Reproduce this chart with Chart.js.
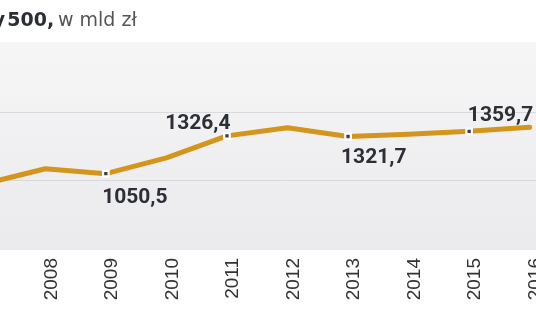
<!DOCTYPE html>
<html><head><meta charset="utf-8">
<script src="https://cdn.jsdelivr.net/npm/chart.js@4.4.1/dist/chart.umd.min.js"></script>
<style>
html,body{margin:0;padding:0;width:536px;height:332px;overflow:hidden;background:#fff}
body{position:relative}
#wrap{position:absolute;left:-82px;top:0;width:739px;height:332px}
</style></head><body>
<div id="wrap"><canvas id="c" width="739" height="332"></canvas></div>
<script>
// ---- data ----
const years = [2007, 2008, 2009, 2010, 2011, 2012, 2013, 2014, 2015, 2016];
const values = [977, 1086, 1050.5, 1166, 1326.4, 1386, 1321.7, 1339, 1359.7, 1390];
const valueLabels = [null, null, '1050,5', null, '1326,4', null, '1321,7', null, '1359,7', null];
const markerYears = [2007, 2009, 2011, 2013, 2015];
const tickLabels = ['2008', '2009', '2010', '2011', '2012', '2013', '2014', '2015', '2016'];
const gridValues = [1000, 1500];
const titleCut = 'y';
const titleBold = '500,';
const titleRest = 'w mld zł';

// ---- label placement (style) ----
const labelPlacement = {
  2009: {align: 'left', dx: -3.7, dy: 29},
  2011: {align: 'right', dx: 3.6, dy: -7},
  2013: {align: 'left', dx: -7, dy: 26},
  2015: {align: 'left', dx: -1.3, dy: -10}
};

const bgPlugin = {
  id: 'bg',
  beforeDraw(chart) {
    const {ctx, chartArea: a} = chart;
    const g = ctx.createLinearGradient(0, a.top, 0, a.bottom);
    g.addColorStop(0, '#f6f6f7');
    g.addColorStop(1, '#eaeaec');
    ctx.save();
    ctx.fillStyle = g;
    ctx.fillRect(a.left, a.top, a.right - a.left, a.bottom - a.top);
    ctx.restore();
  }
};

const labelPlugin = {
  id: 'vlabels',
  afterDatasetsDraw(chart) {
    const ctx = chart.ctx;
    const meta = chart.getDatasetMeta(0);
    ctx.save();
    ctx.font = 'bold 21px Roboto, sans-serif';
    ctx.fillStyle = '#2c2f36';
    ctx.textBaseline = 'alphabetic';
    valueLabels.forEach((t, i) => {
      if (!t) return;
      const p = meta.data[i];
      const pl = labelPlacement[years[i]] || {align: 'center', dx: 0, dy: -10};
      ctx.textAlign = pl.align;
      ctx.fillText(t, p.x + pl.dx, p.y + pl.dy);
    });
    ctx.restore();
  }
};

const titlePlugin = {
  id: 'cutTitle',
  afterDraw(chart) {
    const ctx = chart.ctx;
    const off = -chart.canvas.getBoundingClientRect().left; // page x -> canvas x
    const base = 26;
    ctx.save();
    ctx.textAlign = 'left';
    ctx.textBaseline = 'alphabetic';
    ctx.font = 'bold 19px "DejaVu Sans", sans-serif';
    ctx.fillStyle = '#2b2e35';
    let m = ctx.measureText(titleCut);
    ctx.fillText(titleCut, off + 5.8 - m.actualBoundingBoxRight, base);
    m = ctx.measureText(titleBold);
    ctx.fillText(titleBold, off + 8.3 + m.actualBoundingBoxLeft, base);
    ctx.font = '19px "DejaVu Sans", sans-serif';
    ctx.fillStyle = '#555555';
    m = ctx.measureText(titleRest);
    ctx.fillText(titleRest, off + 58 + m.actualBoundingBoxLeft, base);
    ctx.restore();
  }
};

new Chart(document.getElementById('c'), {
  type: 'line',
  data: {
    datasets: [{
      data: years.map((y, i) => ({x: y, y: values[i]})),
      borderColor: '#d4951d',
      borderWidth: 5,
      borderCapStyle: 'round',
      borderJoinStyle: 'round',
      tension: 0,
      fill: false,
      pointStyle: 'rect',
      pointRadius: c => markerYears.includes(years[c.dataIndex]) ? 3.9 : 0,
      pointBackgroundColor: '#3b3e46',
      pointBorderColor: '#ffffff',
      pointBorderWidth: 2.2
    }]
  },
  options: {
    responsive: false,
    animation: false,
    devicePixelRatio: 1,
    events: [],
    layout: {padding: {top: 42, left: 0, right: 0, bottom: 0}},
    plugins: {legend: {display: false}, tooltip: {enabled: false}},
    scales: {
      x: {
        type: 'linear', min: 2006, max: 2018,
        grid: {display: false, drawTicks: false},
        border: {display: false},
        afterBuildTicks: s => { s.ticks = tickLabels.map(t => ({value: Number(t)})); },
        afterFit: s => { s.height = 82; },
        ticks: {
          minRotation: 90, maxRotation: 90, autoSkip: false, padding: 8, labelOffset: 6,
          color: '#333333',
          font: {family: '"Liberation Sans", Arial, sans-serif', size: 19},
          callback: v => String(v)
        }
      },
      y: {
        min: 493, max: 2012,
        grid: {color: '#d9d9d9', lineWidth: 1, drawTicks: false},
        border: {display: false},
        ticks: {display: false},
        afterBuildTicks: s => { s.ticks = gridValues.map(v => ({value: v})); },
        afterFit: s => { s.width = 0; }
      }
    }
  },
  plugins: [bgPlugin, labelPlugin, titlePlugin]
});
</script>
</body></html>
